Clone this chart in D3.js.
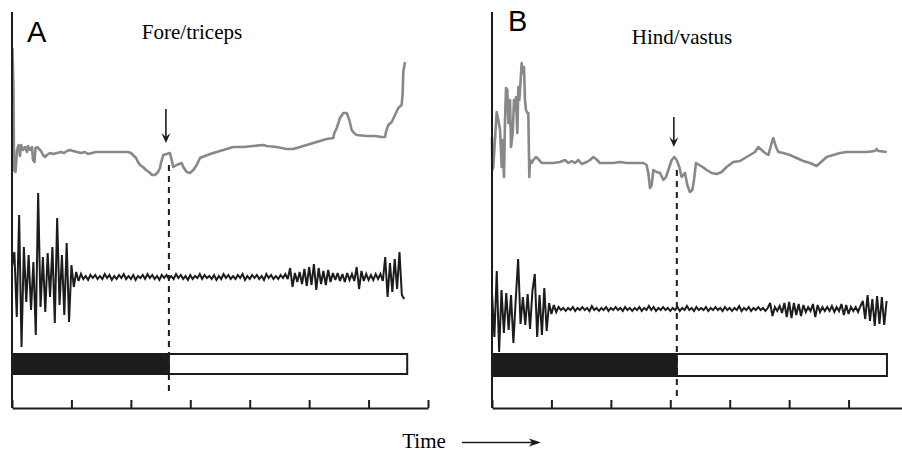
<!DOCTYPE html>
<html>
<head>
<meta charset="utf-8">
<script src="https://cdn.jsdelivr.net/npm/d3@7"></script>
<style>
  body { margin: 0; background: #fff; }
  svg { display: block; }
</style>
</head>
<body>
<svg id="chart" width="902" height="454"></svg>
<script>
// ---- data ----------------------------------------------------------------
// Time axis: seven equal divisions, unlabelled
const timeTicks = [0, 1, 2, 3, 4, 5, 6, 7];

const panelLetters = ["A", "B"];
const panelTitles = ["Fore/triceps", "Hind/vastus"];
const axisLabel = "Time";

// Event (end of the filled phase) marked by the dashed line
const eventTimes = [2.64, 3.11];
// Time pointed to by the downward arrow
const arrowTimes = [2.59, 3.06];
// End of the phase bar
const barEndTimes = [6.65, 6.646];

// Force / position trace (grey), [time, value]
const forceA = [
  [0.008, 132], [0.025, 90], [0.034, 10], [0.059, 8], [0.084, 30], [0.109, 35],
  [0.135, 24], [0.151, 35], [0.185, 30], [0.219, 33], [0.252, 28], [0.269, 34],
  [0.303, 30], [0.337, 33], [0.353, 20], [0.379, 18], [0.395, 32], [0.421, 33],
  [0.454, 31], [0.488, 29], [0.522, 25], [0.555, 23], [0.589, 25], [0.639, 27],
  [0.690, 26], [0.757, 27], [0.824, 28], [0.875, 27], [0.925, 29], [0.976, 30],
  [1.026, 29], [1.094, 28], [1.161, 27], [1.228, 28], [1.279, 26], [1.346, 27],
  [1.413, 28], [1.481, 28], [1.649, 28], [1.817, 28], [1.952, 28], [2.002, 27],
  [2.053, 24], [2.087, 22], [2.120, 18], [2.154, 15], [2.204, 13], [2.255, 10],
  [2.305, 8], [2.356, 5], [2.406, 5], [2.457, 8], [2.490, 12], [2.507, 17],
  [2.546, 25], [2.603, 26], [2.659, 27], [2.714, 13], [2.771, 15], [2.855, 17],
  [2.882, 13], [2.940, 8], [2.995, 7], [3.051, 10], [3.108, 15], [3.163, 22],
  [3.248, 24], [3.332, 26], [3.444, 28], [3.555, 30], [3.724, 33], [3.892, 33],
  [4.060, 34], [4.228, 35], [4.286, 34], [4.454, 33], [4.622, 31], [4.733, 31],
  [4.846, 33], [4.959, 35], [5.070, 37], [5.183, 39], [5.295, 41], [5.406, 42],
  [5.423, 47], [5.464, 52], [5.519, 62], [5.575, 67], [5.632, 67], [5.676, 60],
  [5.716, 50], [5.755, 47], [5.800, 45], [5.968, 44], [6.108, 44], [6.221, 43],
  [6.276, 43], [6.293, 48], [6.332, 55], [6.389, 58], [6.445, 65], [6.500, 72],
  [6.557, 75], [6.574, 87], [6.584, 108], [6.613, 118]
];

const forceB = [
  [0.000, 63], [0.004, 30], [0.022, 33], [0.050, 60], [0.079, 88], [0.107, 80],
  [0.135, 70], [0.163, 33], [0.179, 60], [0.202, 23], [0.219, 80], [0.236, 112],
  [0.258, 110], [0.275, 77], [0.303, 100], [0.320, 53], [0.348, 67], [0.370, 100],
  [0.387, 90], [0.404, 103], [0.426, 67], [0.443, 113], [0.460, 100], [0.482, 120],
  [0.499, 137], [0.516, 127], [0.538, 133], [0.555, 100], [0.572, 90], [0.595, 87],
  [0.611, 87], [0.628, 23], [0.639, 40], [0.667, 37], [0.696, 40], [0.740, 43],
  [0.780, 41], [0.836, 37], [0.920, 37], [1.032, 37], [1.144, 38], [1.228, 40],
  [1.284, 37], [1.341, 39], [1.397, 37], [1.453, 40], [1.509, 36], [1.593, 38],
  [1.649, 40], [1.705, 43], [1.750, 41], [1.817, 37], [1.929, 37], [2.042, 37],
  [2.154, 38], [2.266, 37], [2.434, 37], [2.546, 37], [2.602, 35], [2.630, 27],
  [2.659, 12], [2.687, 15], [2.715, 30], [2.771, 28], [2.827, 27], [2.883, 20],
  [2.928, 23], [2.967, 30], [3.023, 40], [3.068, 43], [3.107, 40], [3.152, 33],
  [3.191, 23], [3.247, 27], [3.286, 15], [3.331, 8], [3.371, 10], [3.399, 20],
  [3.432, 37], [3.488, 35], [3.545, 33], [3.612, 30], [3.696, 27], [3.780, 26],
  [3.864, 28], [3.948, 33], [4.060, 38], [4.173, 39], [4.257, 42], [4.341, 45],
  [4.425, 48], [4.481, 53], [4.537, 50], [4.594, 47], [4.650, 45], [4.706, 57],
  [4.734, 62], [4.779, 53], [4.818, 48], [4.902, 47], [5.014, 45], [5.126, 42],
  [5.239, 39], [5.351, 37], [5.463, 34], [5.519, 37], [5.631, 43], [5.743, 45],
  [5.855, 47], [5.968, 48], [6.080, 48], [6.192, 48], [6.304, 48], [6.444, 49],
  [6.472, 51], [6.500, 49], [6.641, 48]
];

// EMG (black), one sample every emgStep time units starting at 0
const emgStep = 0.04;
const emgA = [
  10, 25, -40, 62, -70, 30, -25, 22, -33, 15, -58, 84, -30, 20, -35, 24, -20, 30,
  -46, 59, -28, 22, -38, 34, -45, 12, -10, 5, -4,
  3, -2, 1, -3, 2, -1, 2, -2, 1, -2,
  3, -1, 2, -3, 1, -2, 2, -1, 3, -2,
  1, -2, 2, -3, 1, -1, 2, -2, 3, -1,
  2, -2, 1, -3, 2, -1, 2, -2, 1, -2,
  3, -1, 2, -2, 1, -3, 2, -2, 1, -1,
  3, -2, 2, -1, 1, -2, 2, -3, 1, -2,
  3, -1, 2, -2, 1, -2, 2, -1, 3, -3,
  1, -2, 2, -1, 2, -2, 1, -3, 3, -1,
  2, -2, 1, -2, 2, -1, 3, -2,
  9, -10, 4, -5, 5, -7, 8, -9, 10, -8, 13, -13, 9, -7, 6, -8, 7, -5, 4, -3,
  4, -4, 3, -5, 4, -3, 3, -4, 10, -12, 6, -4, 3, -3, 2, -3, 3, -2, 3, -4,
  20, -20, 14, -15, 18, -12, 25, -18, -22
];
const emgB = [
  16, -28, 38, -43, 19, -24, 16, -21, 14, -34, 10, 50, -15, 12, -16, 15, -20, 18,
  35, -28, 14, -26, 21, -22, 6, -5, 4, -3,
  2, -1, 1, -2, 1, -1, 2, -2, 1, -1,
  2, -1, 1, -2, 3, -1, 1, -2, 1, -1,
  2, -2, 1, -1, 2, -1, 1, -2, 2, -1,
  1, -2, 1, -1, 2, -2, 1, -1, 3, -1,
  2, -2, 1, -1, 2, -1, 1, -2, 1, -1,
  2, -2, 1, -1, 3, -1, 1, -2, 2, -1,
  1, -1, 2, -2, 1, -1, 2, -1, 1, -2,
  2, -1, 1, -2, 1, -1, 3, -2, 1, -1,
  2, -2, 1, -1, 2, -1, 1, -2, 1,
  6, -7, 2, -2, 3, -4, 6, -8, 7, -9, 6, -6, 5, -7, 4, -3, 2, -2, 5, -8,
  4, -3, 2, -2, 2, -2, 3, -3, 2, -2, 5, -6, 4, -5, 2, -2, 2, -3, 3,
  8, -10, 14, -12, 10, -17, 13, -15, 12, -16, 8
];

// ---- layout ----------------------------------------------------------------
const panels = [
  {
    letter: panelLetters[0], title: panelTitles[0],
    force: forceA, emg: emgA,
    eventT: eventTimes[0], arrowT: arrowTimes[0], barEndT: barEndTimes[0],
    left: 12, right: 428,
    forceDomain: [0, 120], forceRange: [180, 60],
    emgMid: 277,
    barY: 354, barH: 20,
    dashTop: 165, dashBottom: 395,
    arrowTop: 109, arrowTip: 143,
    letterPos: [27, 42], titlePos: [192, 39]
  },
  {
    letter: panelLetters[1], title: panelTitles[1],
    force: forceB, emg: emgB,
    eventT: eventTimes[1], arrowT: arrowTimes[1], barEndT: barEndTimes[1],
    left: 492, right: 908,
    forceDomain: [0, 140], forceRange: [200, 60],
    emgMid: 309,
    barY: 354, barH: 22,
    dashTop: 170, dashBottom: 400,
    arrowTop: 117, arrowTip: 147,
    letterPos: [508, 31], titlePos: [682, 44]
  }
];
const frameTop = 12, frameBottom = 408;

const svg = d3.select("#chart");
const ink = "#1c1c1c";
const grey = "#888888";

panels.forEach(p => {
  const g = svg.append("g");
  const x = d3.scaleLinear().domain([0, 7]).range([p.left, p.right]);
  const yForce = d3.scaleLinear().domain(p.forceDomain).range(p.forceRange);
  const yEmg = d3.scaleLinear().domain([-100, 100]).range([p.emgMid + 100, p.emgMid - 100]);

  // phase bar: filled until the event, open afterwards
  g.append("rect")
    .attr("x", x(0)).attr("y", p.barY)
    .attr("width", x(p.barEndT) - x(0)).attr("height", p.barH)
    .attr("fill", "#fff").attr("stroke", ink).attr("stroke-width", 2);
  g.append("rect")
    .attr("x", x(0)).attr("y", p.barY)
    .attr("width", x(p.eventT) - x(0)).attr("height", p.barH)
    .attr("fill", ink).attr("stroke", ink).attr("stroke-width", 2);

  // dashed event marker
  g.append("line")
    .attr("x1", x(p.eventT)).attr("x2", x(p.eventT))
    .attr("y1", p.dashTop).attr("y2", p.dashBottom)
    .attr("stroke", ink).attr("stroke-width", 2)
    .attr("stroke-dasharray", "6,5");

  // grey force trace
  const forceLine = d3.line().x(d => x(d[0])).y(d => yForce(d[1]));
  g.append("path")
    .datum(p.force)
    .attr("d", forceLine)
    .attr("fill", "none").attr("stroke", grey)
    .attr("stroke-width", 2.6).attr("stroke-linejoin", "round");

  // EMG trace
  const emgLine = d3.line().x((d, i) => x(i * emgStep)).y(d => yEmg(d));
  g.append("path")
    .datum(p.emg)
    .attr("d", emgLine)
    .attr("fill", "none").attr("stroke", ink)
    .attr("stroke-width", 2).attr("stroke-linejoin", "miter")
    .attr("stroke-miterlimit", 3);

  // down arrow
  const ax = x(p.arrowT);
  g.append("line")
    .attr("x1", ax).attr("x2", ax)
    .attr("y1", p.arrowTop).attr("y2", p.arrowTip - 6)
    .attr("stroke", ink).attr("stroke-width", 1.6);
  g.append("path")
    .attr("d", `M${ax - 4.5},${p.arrowTip - 10} L${ax},${p.arrowTip} L${ax + 4.5},${p.arrowTip - 10} L${ax},${p.arrowTip - 6} Z`)
    .attr("fill", ink);

  // vertical frame line
  g.append("line")
    .attr("x1", p.left).attr("x2", p.left)
    .attr("y1", frameTop).attr("y2", frameBottom)
    .attr("stroke", ink).attr("stroke-width", 2);

  // time axis with inward ticks
  const axis = d3.axisBottom(x).tickValues(timeTicks).tickSize(-8).tickSizeOuter(0).tickFormat("");
  const ag = g.append("g").attr("transform", `translate(0,${frameBottom})`).call(axis);
  ag.select(".domain").attr("stroke", ink).attr("stroke-width", 2);
  ag.selectAll(".tick line").attr("stroke", ink).attr("stroke-width", 2);

  // labels
  g.append("text")
    .attr("x", p.letterPos[0]).attr("y", p.letterPos[1])
    .attr("font-family", "'Liberation Sans', Arial, sans-serif")
    .attr("font-size", 29).attr("fill", "#000")
    .text(p.letter);
  g.append("text")
    .attr("x", p.titlePos[0]).attr("y", p.titlePos[1])
    .attr("text-anchor", "middle")
    .attr("font-family", "'Liberation Serif', 'Times New Roman', serif")
    .attr("font-size", 21).attr("fill", "#000")
    .text(p.title);
});

// shared time label with arrow
svg.append("text")
  .attr("x", 424).attr("y", 448)
  .attr("text-anchor", "middle")
  .attr("font-family", "'Liberation Serif', 'Times New Roman', serif")
  .attr("font-size", 21).attr("fill", "#000")
  .text(axisLabel);
svg.append("line")
  .attr("x1", 462).attr("x2", 533).attr("y1", 442.5).attr("y2", 442.5)
  .attr("stroke", ink).attr("stroke-width", 1.3);
svg.append("path")
  .attr("d", "M529,438.5 L541,442.5 L529,446.5 L532,442.5 Z")
  .attr("fill", ink);
</script>
</body>
</html>
